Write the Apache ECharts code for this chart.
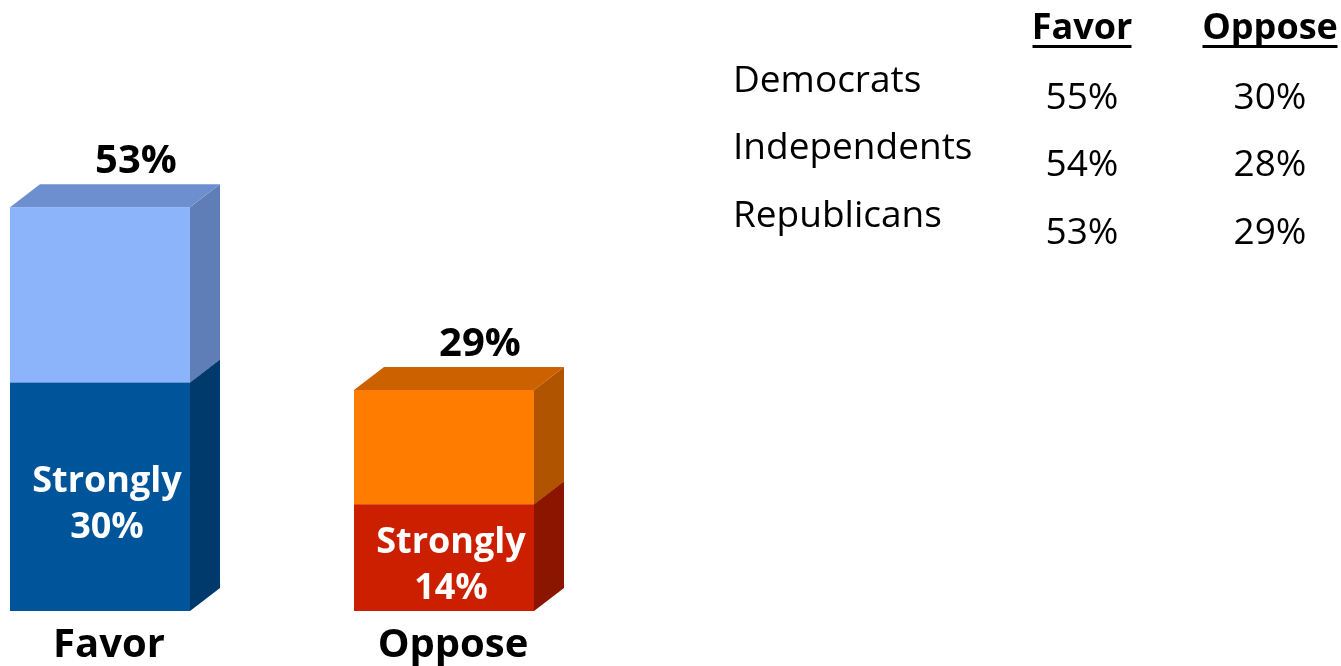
<!DOCTYPE html>
<html>
<head>
<meta charset="utf-8">
<script src="https://cdn.jsdelivr.net/npm/echarts@6/dist/echarts.min.js"></script>
<style>
html,body{margin:0;padding:0;background:#fff;}
#chart{width:1341px;height:666px;}
</style>
</head>
<body>
<div id="chart"></div>
<script>
// ---- data ----
const categories = ['Favor', 'Oppose'];
const stronglyValues = [30, 14];
const somewhatValues = [23, 15]; // totals 53, 29
const stronglyLabel = 'Strongly';

const tableHeaders = ['Favor', 'Oppose'];
const parties = ['Democrats', 'Independents', 'Republicans'];
const partyFavor = [55, 54, 53];
const partyOppose = [30, 28, 29];

// ---- styles ----
const FONT = '"Open Sans", "Noto Sans", sans-serif';
const palette = {
  strong: [
    { front: '#00559a', side: '#003a6d', top: '#004a88' },
    { front: '#cc1f00', side: '#8c1500', top: '#a81a00' }
  ],
  soft: [
    { front: '#8cb4fb', side: '#5f7db6', top: '#6e8fcf' },
    { front: '#ff7c00', side: '#b05400', top: '#cc6100' }
  ]
};

const strongData = categories.map((c, i) => [i, 0, stronglyValues[i]]);
const softData = categories.map((c, i) => [i, stronglyValues[i], stronglyValues[i] + somewhatValues[i]]);

function makeRender(kind) {
  return function (params, api) {
    const idx = api.value(0), start = api.value(1), end = api.value(2);
    const pb = api.coord([idx, start]);
    const pt = api.coord([idx, end]);
    const W = 180, DX = 30, DY = 23;
    const x0 = pb[0] - W / 2, x1 = x0 + W;
    const yb = pb[1], yt = pt[1];
    const c = palette[kind][idx];
    const children = [
      { type: 'rect', shape: { x: x0, y: yt, width: W, height: yb - yt }, style: { fill: c.front } },
      { type: 'polygon', shape: { points: [[x1, yt], [x1 + DX, yt - DY], [x1 + DX, yb - DY], [x1, yb]] }, style: { fill: c.side } },
      { type: 'polygon', shape: { points: [[x0, yt], [x0 + DX, yt - DY], [x1 + DX, yt - DY], [x1, yt]] }, style: { fill: c.top } }
    ];
    if (kind === 'strong') {
      children.push({
        type: 'text',
        style: {
          text: stronglyLabel + '\n' + end + '%',
          x: pb[0] + 7, y: (yt + yb) / 2 + 8,
          align: 'center', verticalAlign: 'middle',
          fill: '#ffffff', font: 'bold 36px ' + FONT, lineHeight: 46
        }
      });
    } else {
      children.push({
        type: 'text',
        style: {
          text: end + '%',
          x: pb[0] + 36, y: yt - DY - 3,
          align: 'center', verticalAlign: 'bottom',
          fill: '#000000', font: 'bold 40px ' + FONT
        }
      });
    }
    return { type: 'group', children: children };
  };
}

// ---- table graphics ----
const graphics = [];
const colX = [1082, 1270];
const underlineW = [99, 135];
tableHeaders.forEach((h, j) => {
  graphics.push({ type: 'text', x: colX[j], y: 29, style: { text: h, align: 'center', verticalAlign: 'middle', font: 'bold 36px ' + FONT, fill: '#000' } });
  graphics.push({ type: 'rect', shape: { x: colX[j] - underlineW[j] / 2, y: 45, width: underlineW[j], height: 3 }, style: { fill: '#000' } });
});
parties.forEach((p, r) => {
  const yl = 81 + r * 67.5;
  graphics.push({ type: 'text', x: 733, y: yl, style: { text: p, align: 'left', verticalAlign: 'middle', font: '37px ' + FONT, fill: '#000' } });
  graphics.push({ type: 'text', x: colX[0], y: yl + 17, style: { text: partyFavor[r] + '%', align: 'center', verticalAlign: 'middle', font: '37px ' + FONT, fill: '#000' } });
  graphics.push({ type: 'text', x: colX[1], y: yl + 17, style: { text: partyOppose[r] + '%', align: 'center', verticalAlign: 'middle', font: '37px ' + FONT, fill: '#000' } });
});

const chart = echarts.init(document.getElementById('chart'), null, { renderer: 'canvas' });
chart.setOption({
  animation: false,
  backgroundColor: '#ffffff',
  grid: { left: 100, right: 897, top: 154, bottom: 55, containLabel: false },
  xAxis: {
    type: 'category',
    data: categories,
    boundaryGap: false,
    axisLine: { show: false },
    axisTick: { show: false },
    splitLine: { show: false },
    axisLabel: { show: true, margin: 15, color: '#000', fontFamily: FONT, fontWeight: 'bold', fontSize: 40, padding: [0, 0, 0, 18] }
  },
  yAxis: {
    type: 'value', min: 0, max: 60,
    show: false, splitLine: { show: false }
  },
  series: [
    { type: 'custom', renderItem: makeRender('strong'), data: strongData, encode: { x: 0, y: [1, 2] }, z: 2 },
    { type: 'custom', renderItem: makeRender('soft'), data: softData, encode: { x: 0, y: [1, 2] }, z: 3 }
  ],
  graphic: graphics
});
</script>
</body>
</html>
